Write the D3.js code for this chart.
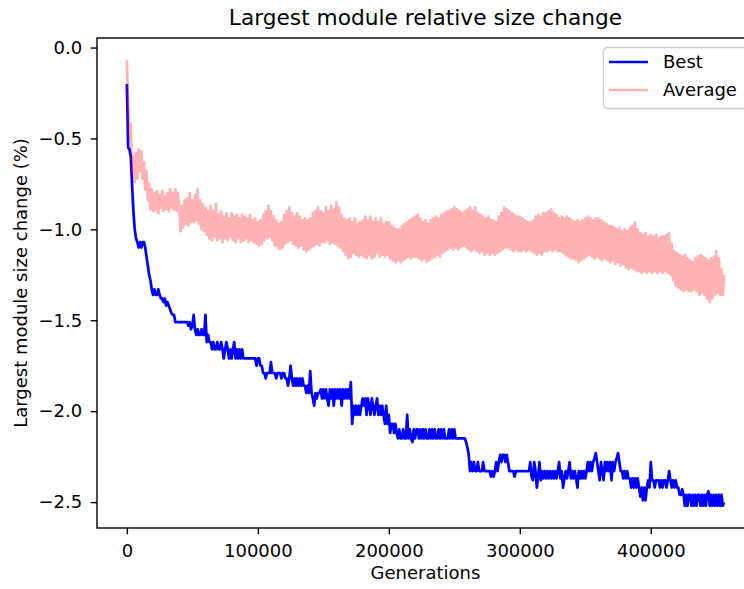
<!DOCTYPE html>
<html lang="en">
  <head>
    <meta charset="utf-8" />
    <title>Largest module relative size change</title>
    <style>
      body {
        margin: 0;
        background: white;
      }
      svg text {
        font-family: "DejaVu Sans", sans-serif;
      }
    </style>
    <script src="https://d3js.org/d3.v7.min.js"></script>
  </head>

  <body>
    <svg width="744" height="589"></svg>

    <script>
      // one sample every 1000 generations
      var genStep = 1000;

      var best = [
        -0.20, -0.55, -0.56, -0.60, -0.76, -0.90, -1.00, -1.05, -1.07, -1.10,
        -1.07, -1.10, -1.07, -1.07, -1.10, -1.15, -1.20, -1.25, -1.28, -1.33,
        -1.36, -1.33, -1.36, -1.36, -1.33, -1.36, -1.38, -1.38, -1.40, -1.38,
        -1.42, -1.40, -1.42, -1.44, -1.46, -1.47, -1.47, -1.51, -1.51, -1.51,
        -1.51, -1.51, -1.51, -1.51, -1.51, -1.51, -1.51, -1.53, -1.51, -1.55,
        -1.53, -1.47, -1.55, -1.58, -1.55, -1.58, -1.58, -1.55, -1.58, -1.58,
        -1.47, -1.62, -1.58, -1.62, -1.62, -1.66, -1.62, -1.66, -1.66, -1.62,
        -1.66, -1.66, -1.62, -1.66, -1.71, -1.66, -1.62, -1.66, -1.71, -1.66,
        -1.71, -1.66, -1.62, -1.71, -1.66, -1.71, -1.66, -1.71, -1.66, -1.71,
        -1.71, -1.71, -1.71, -1.71, -1.71, -1.71, -1.71, -1.71, -1.71, -1.75,
        -1.71, -1.71, -1.75, -1.75, -1.79, -1.79, -1.82, -1.79, -1.79, -1.79,
        -1.73, -1.79, -1.79, -1.79, -1.82, -1.79, -1.79, -1.79, -1.82, -1.79,
        -1.79, -1.82, -1.82, -1.86, -1.82, -1.75, -1.82, -1.86, -1.82, -1.86,
        -1.82, -1.86, -1.82, -1.86, -1.82, -1.86, -1.86, -1.90, -1.86, -1.90,
        -1.78, -1.90, -1.93, -1.97, -1.90, -1.93, -1.90, -1.90, -1.88, -1.93,
        -1.88, -1.93, -1.88, -1.93, -1.97, -1.88, -1.93, -1.88, -1.97, -1.88,
        -1.93, -1.88, -1.93, -1.88, -1.97, -1.88, -1.93, -1.88, -1.93, -1.88,
        -1.93, -1.84, -2.07, -1.97, -2.02, -1.97, -2.02, -1.97, -2.02, -1.97,
        -1.93, -1.97, -1.93, -2.02, -1.93, -1.97, -2.02, -1.93, -1.97, -2.02,
        -1.97, -1.93, -2.02, -1.97, -2.02, -1.97, -2.02, -2.07, -1.97, -2.07,
        -2.02, -2.12, -2.07, -2.07, -2.12, -2.07, -2.12, -2.15, -2.10, -2.15,
        -2.15, -2.10, -2.15, -2.15, -2.02, -2.15, -2.10, -2.15, -2.17, -2.10,
        -2.15, -2.10, -2.10, -2.15, -2.10, -2.15, -2.10, -2.15, -2.10, -2.15,
        -2.15, -2.10, -2.15, -2.10, -2.15, -2.10, -2.15, -2.15, -2.10, -2.15,
        -2.10, -2.15, -2.10, -2.15, -2.15, -2.15, -2.10, -2.15, -2.10, -2.15,
        -2.10, -2.15, -2.15, -2.15, -2.15, -2.15, -2.15, -2.15, -2.15, -2.17,
        -2.20, -2.24, -2.33, -2.28, -2.33, -2.28, -2.33, -2.33, -2.28, -2.33,
        -2.33, -2.33, -2.28, -2.33, -2.33, -2.33, -2.33, -2.33, -2.36, -2.33,
        -2.36, -2.33, -2.28, -2.33, -2.28, -2.24, -2.28, -2.24, -2.24, -2.28,
        -2.24, -2.28, -2.33, -2.33, -2.33, -2.33, -2.36, -2.33, -2.33, -2.33,
        -2.33, -2.33, -2.33, -2.33, -2.33, -2.33, -2.33, -2.33, -2.28, -2.36,
        -2.38, -2.28, -2.33, -2.42, -2.36, -2.28, -2.38, -2.33, -2.37, -2.33,
        -2.37, -2.33, -2.37, -2.33, -2.37, -2.33, -2.37, -2.33, -2.37, -2.33,
        -2.28, -2.37, -2.33, -2.42, -2.37, -2.33, -2.37, -2.33, -2.28, -2.37,
        -2.33, -2.37, -2.33, -2.37, -2.42, -2.33, -2.37, -2.33, -2.37, -2.33,
        -2.37, -2.33, -2.28, -2.33, -2.28, -2.33, -2.28, -2.26, -2.23, -2.28,
        -2.33, -2.38, -2.28, -2.33, -2.38, -2.28, -2.33, -2.28, -2.33, -2.28,
        -2.38, -2.28, -2.33, -2.28, -2.26, -2.23, -2.28, -2.33, -2.33, -2.37,
        -2.33, -2.37, -2.33, -2.37, -2.37, -2.42, -2.37, -2.42, -2.37, -2.42,
        -2.37, -2.42, -2.47, -2.42, -2.49, -2.42, -2.49, -2.42, -2.38, -2.42,
        -2.28, -2.38, -2.38, -2.42, -2.38, -2.38, -2.38, -2.42, -2.38, -2.42,
        -2.38, -2.38, -2.42, -2.38, -2.33, -2.38, -2.42, -2.38, -2.42, -2.38,
        -2.42, -2.42, -2.46, -2.46, -2.43, -2.46, -2.52, -2.46, -2.52, -2.46,
        -2.46, -2.52, -2.46, -2.52, -2.46, -2.52, -2.46, -2.46, -2.52, -2.46,
        -2.52, -2.46, -2.52, -2.46, -2.44, -2.52, -2.46, -2.52, -2.46, -2.52,
        -2.46, -2.52, -2.46, -2.52, -2.46, -2.52, -2.50
      ];

      var average = [
        -0.07, -0.30, -0.50, -0.42, -0.68, -0.60, -0.74, -0.58, -0.72, -0.56,
        -0.68, -0.57, -0.72, -0.63, -0.78, -0.68, -0.84, -0.75, -0.89, -0.78,
        -0.90, -0.80, -0.89, -0.79, -0.91, -0.81, -0.88, -0.79, -0.90, -0.82,
        -0.89, -0.80, -0.90, -0.78, -0.88, -0.80, -0.89, -0.78, -0.90, -0.80,
        -0.88, -1.01, -0.87, -0.99, -0.84, -0.97, -0.83, -0.98, -0.80, -0.96,
        -0.84, -0.96, -0.81, -0.95, -0.78, -0.97, -0.84, -1.00, -0.86, -1.01,
        -0.88, -1.03, -0.90, -1.05, -0.87, -1.06, -0.90, -1.04, -0.86, -1.06,
        -0.92, -1.05, -0.90, -1.07, -0.93, -1.05, -0.91, -1.06, -0.94, -1.04,
        -0.91, -1.06, -0.93, -1.07, -0.92, -1.05, -0.94, -1.07, -0.92, -1.06,
        -0.93, -1.05, -0.94, -1.07, -0.92, -1.06, -0.95, -1.07, -0.94, -1.08,
        -0.96, -1.09, -0.95, -1.08, -0.92, -1.06, -0.90, -1.05, -0.87, -1.04,
        -0.90, -1.06, -0.93, -1.09, -0.95, -1.10, -0.97, -1.11, -0.96, -1.10,
        -0.92, -1.08, -0.90, -1.07, -0.88, -1.06, -0.91, -1.08, -0.93, -1.09,
        -0.91, -1.10, -0.93, -1.09, -0.95, -1.11, -0.94, -1.12, -0.95, -1.11,
        -0.94, -1.10, -0.91, -1.09, -0.90, -1.08, -0.88, -1.09, -0.90, -1.07,
        -0.91, -1.07, -0.88, -1.06, -0.90, -1.08, -0.87, -1.07, -0.89, -1.08,
        -0.85, -1.09, -0.88, -1.10, -0.92, -1.12, -0.94, -1.14, -0.95, -1.16,
        -0.94, -1.15, -0.96, -1.13, -0.94, -1.14, -0.97, -1.15, -0.96, -1.14,
        -0.95, -1.15, -0.93, -1.16, -0.95, -1.14, -0.93, -1.16, -0.96, -1.15,
        -0.94, -1.13, -0.96, -1.15, -0.94, -1.14, -0.97, -1.15, -0.96, -1.14,
        -0.96, -1.16, -0.98, -1.17, -0.99, -1.18, -1.00, -1.17, -1.00, -1.18,
        -0.98, -1.17, -0.97, -1.16, -0.96, -1.15, -0.95, -1.16, -0.94, -1.15,
        -0.93, -1.15, -0.92, -1.16, -0.94, -1.17, -0.96, -1.16, -0.95, -1.18,
        -0.97, -1.17, -0.95, -1.16, -0.94, -1.15, -0.93, -1.14, -0.94, -1.15,
        -0.92, -1.13, -0.91, -1.12, -0.90, -1.11, -0.90, -1.10, -0.89, -1.11,
        -0.88, -1.10, -0.89, -1.11, -0.90, -1.10, -0.91, -1.09, -0.90, -1.10,
        -0.89, -1.11, -0.88, -1.12, -0.90, -1.11, -0.88, -1.12, -0.91, -1.13,
        -0.92, -1.12, -0.93, -1.14, -0.94, -1.13, -0.93, -1.14, -0.95, -1.13,
        -0.95, -1.14, -0.96, -1.13, -0.93, -1.12, -0.91, -1.11, -0.88, -1.10,
        -0.89, -1.10, -0.90, -1.11, -0.91, -1.12, -0.92, -1.11, -0.93, -1.12,
        -0.93, -1.12, -0.94, -1.11, -0.95, -1.12, -0.96, -1.11, -0.96, -1.12,
        -0.95, -1.13, -0.93, -1.14, -0.92, -1.13, -0.93, -1.14, -0.91, -1.12,
        -0.91, -1.12, -0.90, -1.11, -0.89, -1.12, -0.91, -1.11, -0.92, -1.12,
        -0.94, -1.12, -0.93, -1.13, -0.94, -1.14, -0.93, -1.15, -0.94, -1.16,
        -0.95, -1.16, -0.96, -1.17, -0.95, -1.18, -0.96, -1.17, -0.95, -1.16,
        -0.94, -1.15, -0.93, -1.14, -0.94, -1.15, -0.95, -1.16, -0.94, -1.15,
        -0.94, -1.16, -0.95, -1.17, -0.96, -1.16, -0.97, -1.17, -0.98, -1.18,
        -0.98, -1.17, -0.99, -1.19, -1.00, -1.18, -0.99, -1.20, -1.01, -1.19,
        -1.00, -1.21, -1.01, -1.22, -0.99, -1.21, -0.98, -1.22, -0.96, -1.23,
        -1.00, -1.23, -1.02, -1.24, -1.03, -1.23, -1.02, -1.24, -1.04, -1.23,
        -1.03, -1.24, -1.04, -1.23, -1.03, -1.24, -1.05, -1.23, -1.04, -1.24,
        -1.04, -1.23, -1.03, -1.24, -1.02, -1.25, -1.08, -1.28, -1.12, -1.31,
        -1.13, -1.32, -1.14, -1.33, -1.15, -1.34, -1.14, -1.33, -1.16, -1.34,
        -1.17, -1.34, -1.18, -1.33, -1.16, -1.34, -1.15, -1.36, -1.14, -1.35,
        -1.15, -1.36, -1.16, -1.38, -1.17, -1.40, -1.16, -1.38, -1.15, -1.36,
        -1.12, -1.35, -1.16, -1.36, -1.22, -1.36, -1.25
      ];

      var seriesNames = ["Best", "Average"];
      var xTicks = [0, 100000, 200000, 300000, 400000];
      var yTicks = [0, -0.5, -1, -1.5, -2, -2.5];

      var svg = d3.select("svg");

      // axes box (right edge falls just outside the picture)
      var plotLeft = 97,
        plotRight = 754,
        plotTop = 38,
        plotBottom = 528;

      var lineW = 2.7; // 1.5pt
      var spineW = 1.4;

      var gens = d3.range(best.length).map((i) => i * genStep);

      // 5% margins like matplotlib
      var xExt = d3.extent(gens);
      var xPad = (xExt[1] - xExt[0]) * 0.05;
      var yExt = d3.extent(best.concat(average));
      var yPad = (yExt[1] - yExt[0]) * 0.05;

      var x = d3
        .scaleLinear()
        .domain([xExt[0] - xPad, xExt[1] + xPad])
        .range([plotLeft, plotRight]);
      var y = d3
        .scaleLinear()
        .domain([yExt[0] - yPad, yExt[1] + yPad])
        .range([plotBottom, plotTop]);

      var line = d3
        .line()
        .x((d, i) => x(gens[i]))
        .y((d) => y(d));

      svg
        .append("defs")
        .append("clipPath")
        .attr("id", "plotArea")
        .append("rect")
        .attr("x", plotLeft)
        .attr("y", plotTop)
        .attr("width", plotRight - plotLeft)
        .attr("height", plotBottom - plotTop);

      var plot = svg.append("g").attr("clip-path", "url(#plotArea)");

      plot
        .append("path")
        .datum(best)
        .attr("fill", "none")
        .attr("stroke", "#0000ff")
        .attr("stroke-width", lineW)
        .attr("stroke-linejoin", "round")
        .attr("d", line);

      plot
        .append("path")
        .datum(average)
        .attr("fill", "none")
        .attr("stroke", "#ff0000")
        .attr("stroke-opacity", 0.3)
        .attr("stroke-width", lineW)
        .attr("stroke-linejoin", "round")
        .attr("d", line);

      // ticks
      var xAxis = svg
        .append("g")
        .attr("transform", `translate(0,${plotBottom})`)
        .call(
          d3
            .axisBottom(x)
            .tickValues(xTicks)
            .tickSize(6.3)
            .tickPadding(10)
            .tickFormat(d3.format("d"))
        );
      var yAxis = svg
        .append("g")
        .attr("transform", `translate(${plotLeft},0)`)
        .call(
          d3
            .axisLeft(y)
            .tickValues(yTicks)
            .tickSize(6.3)
            .tickPadding(8.5)
            .tickFormat(d3.format(".1f"))
        );
      [xAxis, yAxis].forEach((a) => {
        a.select(".domain").remove();
        a.selectAll("line").attr("stroke", "#000").attr("stroke-width", spineW);
        a.selectAll("text")
          .attr("fill", "#000")
          .style("font-size", "18px");
      });

      // spines
      svg
        .append("rect")
        .attr("x", plotLeft)
        .attr("y", plotTop)
        .attr("width", plotRight - plotLeft)
        .attr("height", plotBottom - plotTop)
        .attr("fill", "none")
        .attr("stroke", "#000")
        .attr("stroke-width", spineW);

      // titles
      svg
        .append("text")
        .attr("x", (plotLeft + plotRight) / 2)
        .attr("y", 25)
        .attr("text-anchor", "middle")
        .style("font-size", "21.7px")
        .text("Largest module relative size change");

      svg
        .append("text")
        .attr("x", (plotLeft + plotRight) / 2)
        .attr("y", 579)
        .attr("text-anchor", "middle")
        .style("font-size", "18px")
        .text("Generations");

      svg
        .append("text")
        .attr(
          "transform",
          `translate(26.5,${(plotTop + plotBottom) / 2}) rotate(-90)`
        )
        .attr("text-anchor", "middle")
        .style("font-size", "18px")
        .text("Largest module size change (%)");

      // legend
      var legend = svg.append("g").attr("transform", "translate(603.5,47.5)");
      legend
        .append("rect")
        .attr("width", 150)
        .attr("height", 61)
        .attr("rx", 4)
        .attr("fill", "white")
        .attr("fill-opacity", 0.8)
        .attr("stroke", "#cccccc")
        .attr("stroke-width", 1.4);

      var legendColors = ["#0000ff", "#ff0000"];
      var legendOpacity = [1, 0.3];
      var item = legend
        .selectAll("g.item")
        .data(seriesNames)
        .enter()
        .append("g")
        .attr("class", "item")
        .attr("transform", (d, i) => `translate(0,${14.5 + i * 28})`);
      item
        .append("line")
        .attr("x1", 5.5)
        .attr("x2", 44.5)
        .attr("stroke", (d, i) => legendColors[i])
        .attr("stroke-opacity", (d, i) => legendOpacity[i])
        .attr("stroke-width", lineW);
      item
        .append("text")
        .attr("x", 59.5)
        .attr("y", 6)
        .style("font-size", "18px")
        .text((d) => d);
    </script>
  </body>
</html>
